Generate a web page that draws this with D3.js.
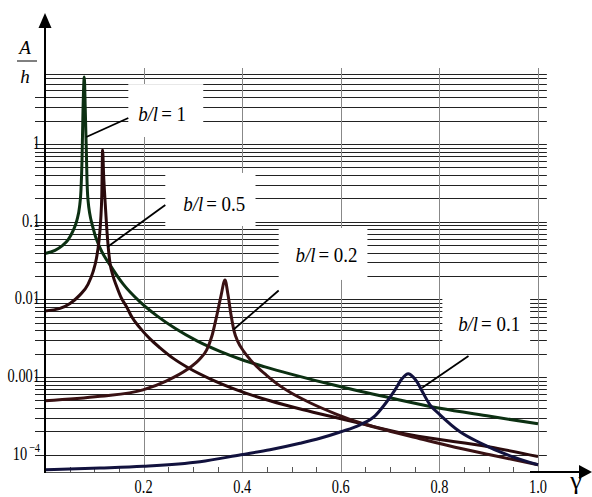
<!DOCTYPE html>
<html>
<head>
<meta charset="utf-8">
<script src="https://cdn.jsdelivr.net/npm/d3@7"></script>
<style>
  body { margin: 0; background: #fff; }
</style>
</head>
<body>
<svg id="chart" width="592" height="497"></svg>
<script>
// axis ticks
var gammaTicks = [0.2, 0.4, 0.6, 0.8, 1.0];
var gammaTickLabels = ["0.2", "0.4", "0.6", "0.8", "1.0"];
var ampTicks = [1, 0.1, 0.01, 0.001, 1e-4];
var ampTickLabels = ["1", "0.1", "0.01", "0.001", "10^-4"];

// b/l values of the four curves
var seriesLabels = ["1", "0.5", "0.2", "0.1"];

// [gamma, A/h]
var curve1 = [
  [0, 0.039], [0.0203, 0.0427], [0.0345, 0.0488], [0.0467, 0.0582], [0.0568, 0.076],
  [0.0649, 0.1053], [0.07, 0.1548], [0.073, 0.256], [0.0751, 0.622], [0.0771, 2.74],
  [0.0797, 7.27], [0.0817, 2.74], [0.0838, 0.837], [0.0852, 0.344], [0.0872, 0.1905],
  [0.0974, 0.0831], [0.1116, 0.046], [0.1318, 0.0278], [0.1582, 0.01583], [0.1927, 0.00929],
  [0.2272, 0.00613], [0.2637, 0.00424], [0.3083, 0.00292], [0.355, 0.00214], [0.3996, 0.00167],
  [0.4462, 0.001355], [0.497, 0.0011], [0.6004, 0.000749], [0.6998, 0.000541], [0.8012, 0.000396],
  [0.9026, 0.000313], [1.0, 0.00025]
];
var curve05 = [
  [0, 0.00711], [0.0304, 0.00766], [0.0507, 0.00888], [0.071, 0.01143], [0.0872, 0.01559],
  [0.0974, 0.0226], [0.1045, 0.0342], [0.1095, 0.0565], [0.113, 0.1053], [0.1152, 0.2208],
  [0.1168, 0.837], [0.1189, 0.399], [0.1217, 0.19], [0.1252, 0.0831], [0.1284, 0.046],
  [0.1318, 0.0295], [0.1379, 0.02006], [0.1454, 0.01462], [0.1542, 0.0106], [0.1657, 0.008],
  [0.1759, 0.00596], [0.1927, 0.0043], [0.213, 0.0031], [0.2333, 0.00238], [0.2602, 0.00174],
  [0.294, 0.00128], [0.3347, 0.00095], [0.3888, 0.000685], [0.4564, 0.000495], [0.5239, 0.000379],
  [0.5917, 0.000299], [0.6389, 0.000254], [0.7404, 0.000181], [0.9026, 0.000126], [1.0, 0.000095]
];
var curve02 = [
  [0, 0.000495], [0.1116, 0.000565], [0.1988, 0.000685], [0.2469, 0.000895], [0.2874, 0.00124],
  [0.3144, 0.00172], [0.328, 0.00224], [0.3387, 0.0034], [0.3483, 0.00614], [0.357, 0.0111],
  [0.3651, 0.0178], [0.3712, 0.01143], [0.3773, 0.00632], [0.3834, 0.00394], [0.3915, 0.00284],
  [0.4022, 0.00218], [0.4158, 0.00169], [0.4294, 0.00137], [0.4483, 0.00107], [0.4767, 0.00077],
  [0.497, 0.000637], [0.5375, 0.000467], [0.5917, 0.000332], [0.6389, 0.000258], [0.6998, 0.000201],
  [0.7606, 0.000161], [0.8316, 0.000125], [0.9026, 0.0001], [1.0, 0.0000742]
];
var curve01 = [
  [0, 0.0000641], [0.1116, 0.0000675], [0.1988, 0.0000711], [0.3144, 0.0000813], [0.3976, 0.0001],
  [0.4564, 0.000116], [0.5172, 0.0001406], [0.5578, 0.000163], [0.6004, 0.0001977], [0.6389, 0.000243],
  [0.6694, 0.000317], [0.6917, 0.000467], [0.71, 0.000685], [0.7241, 0.000949], [0.7369, 0.0011],
  [0.7465, 0.001007], [0.7546, 0.000868], [0.7667, 0.000627], [0.7809, 0.000439], [0.8012, 0.000327],
  [0.8418, 0.0001977], [0.8824, 0.0001426], [0.9432, 0.000097], [1.0, 0.0000743]
];

var curves = [curve1, curve05, curve02, curve01];
var colors = ["#0c3012", "#2a0a0c", "#3a1214", "#12123e"];
var serif = "Liberation Serif";

var svg = d3.select('#chart');
var x = d3.scaleLinear().domain([0, 1]).range([45, 538]);
var y = d3.scaleLog().domain([6e-5, 8.2]).range([472, 73]);

// squeeze a text horizontally like the original raster font
function squeeze(sel, k) {
  sel.each(function() {
    var w = this.getComputedTextLength();
    d3.select(this).attr('textLength', w * k).attr('lengthAdjust', 'spacingAndGlyphs');
  });
}

// horizontal grid, 1..9 in each decade
var gridVals = [];
for (var k = -4; k <= 0; k++) {
  for (var m = 1; m <= 9; m++) {
    var v = m * Math.pow(10, k);
    if (v <= 8.2) gridVals.push(v);
  }
}
svg.append('g').selectAll('line').data(gridVals).enter()
  .append('line')
  .attr('x1', function(d) { return d > 4 ? 45 : 35; })
  .attr('x2', x(1.018))
  .attr('y1', function(d) { return Math.round(y(d)) + 0.5; })
  .attr('y2', function(d) { return Math.round(y(d)) + 0.5; })
  .attr('stroke', '#222')
  .attr('stroke-width', 1);

// vertical grid
svg.append('g').selectAll('line').data(gammaTicks).enter()
  .append('line')
  .attr('x1', function(d) { return Math.round(x(d)) + 0.5; })
  .attr('x2', function(d) { return Math.round(x(d)) + 0.5; })
  .attr('y1', 68)
  .attr('y2', 472)
  .attr('stroke', '#888')
  .attr('stroke-width', 1);

// minor ticks every 0.05
var minor = d3.range(1, 21).map(function(i) { return i * 0.05; })
  .filter(function(d) { return Math.round(d * 100) % 20 !== 0; });
svg.append('g').selectAll('line').data(minor).enter()
  .append('line')
  .attr('x1', function(d) { return Math.round(x(d)) + 0.5; })
  .attr('x2', function(d) { return Math.round(x(d)) + 0.5; })
  .attr('y1', 472)
  .attr('y2', 467)
  .attr('stroke', '#555');

// label boxes (gamma from, gamma to, A/h top, A/h bottom)
var notes = [
  { label: seriesLabels[0], box: [0.169, 0.321, 5.9, 1.23], text: [0.189, 1.98], lead: [[0.0838, 1.23], [0.169, 2.16]] },
  { label: seriesLabels[1], box: [0.244, 0.427, 0.424, 0.088], text: [0.2805, 0.137], lead: [[0.1266, 0.0473], [0.244, 0.164]] },
  { label: seriesLabels[2], box: [0.474, 0.654, 0.083, 0.0178], text: [0.508, 0.0303], lead: [[0.3826, 0.0041], [0.474, 0.013]] },
  { label: seriesLabels[3], box: [0.806, 0.984, 0.0154, 0.00224], text: [0.838, 0.00393], lead: [[0.765, 0.00073], [0.859, 0.00187]] }
];
svg.append('g').selectAll('rect').data(notes).enter()
  .append('rect')
  .attr('x', function(d) { return x(d.box[0]); })
  .attr('y', function(d) { return y(d.box[2]); })
  .attr('width', function(d) { return x(d.box[1]) - x(d.box[0]); })
  .attr('height', function(d) { return y(d.box[3]) - y(d.box[2]); })
  .attr('fill', '#fff');

// curves
var line = d3.line()
  .x(function(d) { return x(d[0]); })
  .y(function(d) { return y(d[1]); })
  .curve(d3.curveMonotoneX);
svg.append('g').selectAll('path').data(curves).enter()
  .append('path')
  .attr('d', line)
  .attr('fill', 'none')
  .attr('stroke', function(d, i) { return colors[i]; })
  .attr('stroke-width', 3)
  .attr('stroke-linejoin', 'round');

// leader lines
svg.append('g').selectAll('line').data(notes).enter()
  .append('line')
  .attr('x1', function(d) { return x(d.lead[0][0]); })
  .attr('y1', function(d) { return y(d.lead[0][1]); })
  .attr('x2', function(d) { return x(d.lead[1][0]); })
  .attr('y2', function(d) { return y(d.lead[1][1]); })
  .attr('stroke', '#000')
  .attr('stroke-width', 1.8);

// label texts: italic b/l, then upright "= value"
var gl = svg.append('g');
notes.forEach(function(d) {
  var x0 = x(d.text[0]), y0 = y(d.text[1]);
  var t1 = gl.append('text').attr('x', x0).attr('y', y0)
    .attr('font-size', 21).attr('font-style', 'italic')
    .style('font-family', serif).text('b/l');
  squeeze(t1, 0.9);
  var w1 = t1.node().getComputedTextLength() * 0.9;
  var t2 = gl.append('text').attr('x', x0 + w1 + 5).attr('y', y0)
    .attr('font-size', 21)
    .style('font-family', serif).text('= ' + d.label);
  squeeze(t2, 0.9);
});

// axes
svg.append('line').attr('x1', 45).attr('x2', 582).attr('y1', 472.5).attr('y2', 472.5)
  .attr('stroke', '#555').attr('stroke-width', 1);
svg.append('line').attr('x1', 530).attr('x2', 582).attr('y1', 472).attr('y2', 472)
  .attr('stroke', '#000').attr('stroke-width', 2);
svg.append('path').attr('d', 'M592,472 L579,465 L579,479 Z').attr('fill', '#000');
svg.append('line').attr('x1', 45).attr('x2', 45).attr('y1', 473).attr('y2', 25)
  .attr('stroke', '#000').attr('stroke-width', 2);
svg.append('path').attr('d', 'M45,13 L38.5,28 L51.5,28 Z').attr('fill', '#000');

// tick labels
var xl = svg.append('g').selectAll('text').data(gammaTicks).enter()
  .append('text')
  .attr('x', function(d) { return x(d); })
  .attr('y', 493)
  .attr('text-anchor', 'middle')
  .attr('font-size', 18)
  .style('font-family', serif)
  .text(function(d, i) { return gammaTickLabels[i]; });
squeeze(xl, 0.8);

var gy = svg.append('g');
ampTicks.forEach(function(d, i) {
  var parts = ampTickLabels[i].split('^');
  var yy = y(d) + 5;
  if (parts.length > 1) {
    // power label: base and superscript as two texts
    var e = gy.append('text').attr('x', 40).attr('y', yy - 8)
      .attr('text-anchor', 'end').attr('font-size', 13)
      .style('font-family', serif).text(parts[1].replace('-', '\u2212'));
    squeeze(e, 0.8);
    var we = e.node().getComputedTextLength() * 0.8;
    var b = gy.append('text').attr('x', 40 - we - 4).attr('y', yy)
      .attr('text-anchor', 'end').attr('font-size', 18)
      .style('font-family', serif).text(parts[0]);
    squeeze(b, 0.8);
  } else {
    var t = gy.append('text').attr('x', 40).attr('y', yy)
      .attr('text-anchor', 'end').attr('font-size', 18)
      .style('font-family', serif).text(parts[0]);
    squeeze(t, 0.8);
  }
});

// axis titles
svg.append('text').attr('x', 25).attr('y', 54).attr('text-anchor', 'middle')
  .style('font-family', serif)
  .attr('font-size', 19).attr('font-style', 'italic').text('A');
svg.append('line').attr('x1', 17).attr('x2', 37).attr('y1', 61).attr('y2', 61)
  .attr('stroke', '#000').attr('stroke-width', 1);
svg.append('text').attr('x', 25).attr('y', 83).attr('text-anchor', 'middle')
  .style('font-family', serif)
  .attr('font-size', 19).attr('font-style', 'italic').text('h');
svg.append('text').attr('x', 576).attr('y', 489).attr('text-anchor', 'middle')
  .style('font-family', serif)
  .attr('font-size', 26).text('\u03b3');
</script>
</body>
</html>
